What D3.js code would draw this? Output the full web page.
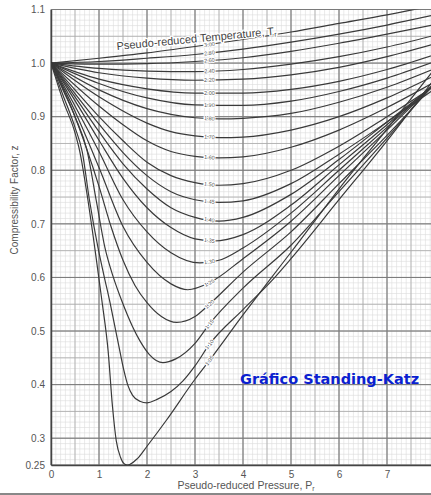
<html>
<head>
<meta charset="UTF-8">
<script src="https://cdnjs.cloudflare.com/ajax/libs/d3/7.8.5/d3.min.js"></script>
<style>
    body { margin: 0; background: #ffffff; }
    svg { display: block; font-family: "Liberation Sans", Arial, sans-serif; }
    .tick text { fill: #555; }
</style>
</head>
<body>
<svg id="chart" width="431" height="495"></svg>
<script>
    // pseudo-reduced temperature curves, [Pr, z]
    var tr300 = [[0,1],[1,1.009],[2,1.019],[3,1.031],[4,1.044],[5,1.058],[6,1.074],[7,1.09],[8,1.108]];
    var tr280 = [[0,1],[1,1.003],[2,1.009],[3,1.016],[4,1.026],[5,1.039],[6,1.054],[7,1.071],[8,1.09]];
    var tr260 = [[0,1],[1,0.998],[2,0.999],[3,1.003],[4,1.01],[5,1.022],[6,1.037],[7,1.054],[8,1.072]];
    var tr240 = [[0,1],[1,0.99],[2,0.985],[3,0.984],[4,0.988],[5,0.998],[6,1.012],[7,1.03],[8,1.052]];
    var tr220 = [[0,1],[1,0.982],[2,0.972],[3,0.968],[4,0.97],[5,0.978],[6,0.992],[7,1.012],[8,1.036]];
    var tr200 = [[0,1],[1,0.97],[2,0.952],[3,0.944],[4,0.944],[5,0.951],[6,0.966],[7,0.988],[8,1.016]];
    var tr190 = [[0,1],[1,0.962],[2,0.935],[3,0.922],[4,0.921],[5,0.929],[6,0.947],[7,0.972],[8,1.003]];
    var tr180 = [[0,1],[1,0.95],[2,0.915],[3,0.898],[3.5,0.896],[4,0.897],[5,0.906],[6,0.927],[7,0.955],[8,0.99]];
    var tr170 = [[0,1],[1,0.937],[2,0.888],[2.5,0.872],[3,0.864],[3.5,0.861],[4,0.862],[5,0.875],[6,0.9],[7,0.935],[8,0.977]];
    var tr160 = [[0,1],[1,0.92],[1.5,0.885],[2,0.855],[2.5,0.835],[3,0.826],[3.5,0.823],[4,0.825],[5,0.843],[6,0.875],[7,0.917],[8,0.965]];
    var tr150 = [[0,1],[0.5,0.95],[1,0.9],[1.5,0.855],[2,0.815],[2.5,0.79],[3,0.777],[3.5,0.772],[4,0.775],[5,0.8],[6,0.845],[7,0.9],[8,0.958]];
    var tr145 = [[0,1],[0.5,0.943],[1,0.886],[1.5,0.833],[2,0.79],[2.5,0.76],[3,0.745],[3.5,0.74],[4,0.743],[5,0.775],[6,0.83],[7,0.89],[8,0.952]];
    var tr140 = [[0,1],[0.5,0.937],[1,0.872],[1.5,0.812],[2,0.765],[2.5,0.73],[3,0.712],[3.5,0.705],[4,0.712],[5,0.755],[6,0.82],[7,0.89],[8,0.96]];
    var tr135 = [[0,1],[0.5,0.93],[1,0.856],[1.5,0.785],[2,0.73],[2.5,0.693],[3,0.672],[3.4,0.668],[4,0.68],[5,0.735],[6,0.81],[7,0.885],[8,0.962]];
    var tr130 = [[0,1],[0.5,0.92],[1,0.835],[1.5,0.745],[2,0.685],[2.5,0.646],[3.1,0.627],[3.5,0.632],[4,0.655],[5,0.72],[6,0.8],[7,0.88],[8,0.962]];
    var tr125 = [[0,1],[0.5,0.91],[1,0.805],[1.5,0.695],[2,0.628],[2.5,0.588],[2.85,0.577],[3.3,0.59],[4,0.635],[5,0.705],[6,0.79],[7,0.875],[8,0.962]];
    var tr120 = [[0,1],[0.5,0.9],[1,0.77],[1.25,0.695],[1.5,0.632],[1.75,0.585],[2,0.553],[2.3,0.527],[2.62,0.516],[3,0.527],[3.3,0.55],[4,0.61],[5,0.685],[6,0.775],[7,0.865],[8,0.962]];
    var tr115 = [[0,1],[0.25,0.95],[0.5,0.9],[0.75,0.837],[0.95,0.74],[1.125,0.655],[1.3,0.6],[1.48,0.555],[1.7,0.508],[1.85,0.482],[2.05,0.456],[2.33,0.441],[2.6,0.448],[3,0.477],[3.3,0.513],[4,0.58],[5,0.66],[6,0.76],[7,0.86],[8,0.965]];
    var tr110 = [[0,1],[0.25,0.94],[0.5,0.88],[0.65,0.835],[0.8,0.745],[0.98,0.655],[1.1,0.605],[1.23,0.553],[1.35,0.5],[1.44,0.46],[1.52,0.426],[1.6,0.399],[1.7,0.38],[1.85,0.369],[2,0.366],[2.2,0.372],[2.5,0.387],[2.75,0.407],[3,0.435],[3.3,0.475],[4,0.54],[4.6,0.594],[5,0.635],[6,0.745],[7,0.855],[8,0.972]];
    var tr105 = [[0,1],[0.25,0.93],[0.5,0.87],[0.6,0.835],[0.77,0.744],[0.92,0.65],[1.06,0.557],[1.19,0.463],[1.28,0.36],[1.36,0.295],[1.45,0.264],[1.53,0.252],[1.6,0.25],[1.8,0.262],[2,0.285],[2.4,0.333],[3,0.41],[3.3,0.445],[4,0.53],[4.5,0.589],[5,0.647],[6,0.765],[7,0.877],[8,0.99]];

    var trLabels = ["3.00","2.80","2.60","2.40","2.20","2.00","1.90","1.80","1.70","1.60","1.50","1.45","1.40","1.35","1.30","1.25","1.20","1.15","1.10","1.05"];
    var trCurves = [tr300,tr280,tr260,tr240,tr220,tr200,tr190,tr180,tr170,tr160,tr150,tr145,tr140,tr135,tr130,tr125,tr120,tr115,tr110,tr105];

    var xTicks = [0,1,2,3,4,5,6,7,8];
    var yTicks = [0.25,0.3,0.4,0.5,0.6,0.7,0.8,0.9,1.0,1.1];

    var svg = d3.select("#chart");

    var x = d3.scaleLinear().domain([0, 8]).range([51, 435]);
    var y = d3.scaleLinear().domain([0.25, 1.1]).range([465, 9.5]);

    var plotW = x(8) - x(0);
    var plotH = y(0.25) - y(1.1);

    svg.append("defs").append("clipPath").attr("id", "plot")
        .append("rect")
        .attr("x", x(0)).attr("y", y(1.1))
        .attr("width", plotW).attr("height", plotH);

    var grid = svg.append("g");

    // graph paper: fine, medium and heavy rulings
    function vlines(vals, color, w) {
        grid.selectAll(null).data(vals).enter().append("line")
            .attr("x1", d => x(d)).attr("x2", d => x(d))
            .attr("y1", y(1.1)).attr("y2", y(0.25))
            .style("stroke", color).style("stroke-width", w);
    }
    function hlines(vals, color, w) {
        grid.selectAll(null).data(vals).enter().append("line")
            .attr("x1", x(0)).attr("x2", x(8))
            .attr("y1", d => y(d)).attr("y2", d => y(d))
            .style("stroke", color).style("stroke-width", w);
    }
    vlines(d3.range(0, 80.5, 1).map(d => d / 10), "#dcdcdc", 0.6);
    hlines(d3.range(25, 110.5, 1).map(d => d / 100), "#dcdcdc", 0.6);
    vlines(d3.range(0, 16.5, 1).map(d => d / 2), "#a8a8a8", 0.8);
    hlines(d3.range(5, 22.5, 1).map(d => d / 20), "#a8a8a8", 0.8);
    vlines(xTicks, "#7a7a7a", 1);
    hlines(d3.range(3, 11.5, 1).map(d => d / 10).concat([0.25]), "#7a7a7a", 1);

    // axes (labels only, the frame is drawn by the grid)
    var xAxis = svg.append("g")
        .attr("transform", "translate(0," + y(0.25) + ")")
        .call(d3.axisBottom(x).tickValues(xTicks).tickSize(0).tickPadding(6).tickFormat(d3.format("d")));
    xAxis.select(".domain").style("stroke", "#444").style("stroke-width", 1.5);
    xAxis.selectAll("text").style("font-size", "10px");

    var yAxis = svg.append("g")
        .attr("transform", "translate(" + x(0) + ",0)")
        .call(d3.axisLeft(y).tickValues(yTicks).tickSize(0).tickPadding(6)
            .tickFormat(d => d === 0.25 ? "0.25" : d3.format(".1f")(d)));
    yAxis.select(".domain").style("stroke", "#444").style("stroke-width", 1.5);
    yAxis.selectAll("text").style("font-size", "10px");

    var line = d3.line()
        .x(d => x(d[0]))
        .y(d => y(d[1]))
        .curve(d3.curveMonotoneX);

    svg.append("g").attr("clip-path", "url(#plot)")
        .selectAll("path")
        .data(trCurves)
        .enter()
        .append("path")
        .attr("d", line)
        .style("fill", "none")
        .style("stroke", "#3a3a3a")
        .style("stroke-width", 1.2);

    // curve labels near Pr = 3.3
    function zAt(pts, p) {
        for (var i = 1; i < pts.length; i++) {
            if (pts[i][0] >= p) {
                var t = (p - pts[i - 1][0]) / (pts[i][0] - pts[i - 1][0]);
                return pts[i - 1][1] + t * (pts[i][1] - pts[i - 1][1]);
            }
        }
        return pts[pts.length - 1][1];
    }
    var labelPr = 3.3;
    trCurves.forEach(function (pts, i) {
        var px = x(labelPr), py = y(zAt(pts, labelPr));
        var ang = Math.atan2(y(zAt(pts, labelPr + 0.1)) - y(zAt(pts, labelPr - 0.1)), x(0.2) - x(0)) * 180 / Math.PI;
        svg.append("text")
            .attr("transform", "translate(" + px + "," + py + ") rotate(" + ang + ")")
            .attr("dy", "0.35em")
            .style("text-anchor", "middle")
            .style("font-size", "5.5px")
            .style("fill", "#555")
            .style("stroke", "#fff")
            .style("stroke-width", 2)
            .style("paint-order", "stroke")
            .text(trLabels[i]);
    });

    svg.append("text")
        .attr("transform", "translate(117,50) rotate(-5.5)")
        .style("font-size", "11px")
        .style("fill", "#444")
        .style("stroke", "#fff")
        .style("stroke-width", 2.5)
        .style("paint-order", "stroke")
        .text("Pseudo-reduced Temperature, T")
        .append("tspan").attr("dy", 2).style("font-size", "7px").text("r");

    svg.append("text")
        .attr("transform", "translate(18,200) rotate(-90)")
        .style("text-anchor", "middle")
        .style("font-size", "10px")
        .style("fill", "#555")
        .text("Compressibility Factor, z");

    svg.append("text")
        .attr("x", 246).attr("y", 489)
        .style("text-anchor", "middle")
        .style("font-size", "10.5px")
        .style("fill", "#555")
        .text("Pseudo-reduced Pressure, P")
        .append("tspan").attr("dy", 2).style("font-size", "7px").text("r");

    svg.append("text")
        .attr("x", 240).attr("y", 384)
        .style("font-family", "'DejaVu Sans', sans-serif")
        .style("font-weight", "bold")
        .style("font-size", "14.5px")
        .style("fill", "#0b1fd0")
        .text("Gráfico Standing-Katz");

    svg.append("line")
        .attr("x1", 0).attr("x2", 431).attr("y1", 494).attr("y2", 494)
        .style("stroke", "#888").style("stroke-width", 2);
</script>
</body>
</html>
